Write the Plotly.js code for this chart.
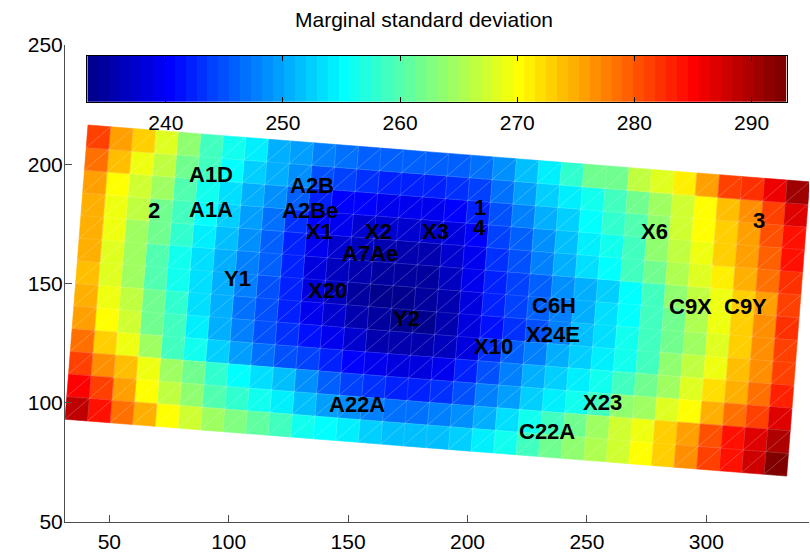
<!DOCTYPE html>
<html>
<head>
<meta charset="utf-8">
<script src="https://cdn.plot.ly/plotly-3.0.1.min.js"></script>
<style>html,body{margin:0;padding:0;background:#fff}#chart{width:810px;height:552px}</style>
</head>
<body>
<div id="chart"></div>
<script>
// ---- data (marginal standard deviation per grid cell, top row first, left to right) ----
const sdRow01 = [280.9,276.2,272.9,268.3,263.7,259.4,256.6,253.9,250.6,249.2,247.4,246.4,246.0,245.5,245.5,245.5,246.0,246.9,248.8,251.1,254.4,257.6,261.3,262.2,266.0,268.3,271.5,276.2,280.9,282.7,286.4,291.1];
const sdRow02 = [278.1,273.8,268.8,266.0,262.2,259.0,254.9,252.0,250.1,248.3,245.0,243.6,242.7,242.2,242.2,242.2,242.7,244.0,246.4,249.2,252.5,254.4,256.6,259.4,262.2,265.0,267.5,270.0,274.3,277.1,281.8,287.3];
const sdRow03 = [275.7,270.6,267.8,264.1,260.3,256.6,253.0,250.6,248.3,245.5,242.2,240.4,239.9,239.4,239.4,239.4,240.4,241.7,244.5,247.4,250.1,252.5,254.9,257.6,260.3,263.2,266.9,269.8,273.3,276.2,280.0,283.7];
const sdRow04 = [275.2,269.3,266.0,262.2,258.5,254.9,252.0,249.2,247.0,243.0,240.4,239.0,237.6,237.1,237.1,237.6,238.5,240.4,243.6,245.5,248.3,251.1,253.9,255.7,259.4,263.2,266.0,268.8,272.5,275.7,279.5,283.7];
const sdRow05 = [275.2,268.8,265.0,261.3,257.6,253.9,251.1,248.3,246.0,242.2,239.4,237.6,236.1,235.2,235.2,235.6,237.1,239.4,242.7,244.5,247.4,250.1,253.0,255.3,258.5,262.2,265.5,268.3,271.5,274.8,278.5,282.7];
const sdRow06 = [274.8,268.3,265.0,260.3,256.6,253.4,250.6,247.8,245.5,241.7,238.5,236.6,235.2,234.3,234.3,234.7,236.1,239.0,241.7,243.6,245.5,248.3,250.6,252.5,255.3,259.4,263.2,266.0,269.3,272.5,276.2,281.0];
const sdRow07 = [274.3,268.3,265.0,260.3,256.6,253.4,250.6,247.4,244.9,242.2,238.5,236.1,234.7,233.8,233.8,234.3,235.6,238.0,241.7,243.6,245.5,247.4,250.3,253.0,255.5,258.5,261.8,265.5,268.8,273.0,277.0,282.3];
const sdRow08 = [274.8,269.3,266.0,262.2,257.6,253.4,250.1,246.4,244.5,241.7,239.4,237.1,235.2,234.3,233.8,233.8,235.2,238.0,241.2,243.2,245.0,247.4,251.1,253.4,255.7,258.5,261.3,265.0,268.3,272.9,276.7,281.8];
const sdRow09 = [275.7,270.6,266.9,262.2,258.5,253.9,250.6,247.4,244.9,242.7,241.2,239.0,237.1,235.6,235.2,235.2,236.1,238.5,242.7,245.5,247.8,250.1,252.0,254.4,256.6,259.4,263.2,266.3,269.3,273.8,277.1,281.8];
const sdRow10 = [278.1,273.3,269.3,264.1,259.4,256.6,252.0,249.2,246.9,244.9,243.6,241.7,239.9,239.0,238.5,238.5,239.4,241.7,244.5,247.4,250.1,252.5,253.9,255.7,258.5,262.2,265.0,268.3,271.8,275.2,278.5,283.0];
const sdRow11 = [281.8,277.1,273.8,268.8,264.1,261.3,257.6,254.9,253.0,251.1,248.3,245.5,243.6,242.7,242.2,242.2,243.2,245.0,247.4,249.6,252.0,253.9,255.7,259.4,263.2,265.0,268.3,270.6,275.2,278.1,281.8,287.3];
const sdRow12 = [285.5,280.9,276.2,270.6,266.3,263.2,260.3,257.6,255.7,253.9,251.1,249.6,248.3,247.4,246.9,246.9,247.4,248.8,250.6,253.4,256.6,259.4,262.2,264.1,266.9,269.3,273.3,276.2,280.0,283.7,287.3,290.2];
const sdRow13 = [289.2,283.7,278.9,275.2,270.6,266.9,264.1,262.5,260.7,258.8,256.6,255.3,253.9,252.5,251.5,251.1,251.5,252.5,253.9,255.7,259.4,262.2,263.7,265.5,267.5,270.0,273.3,276.7,281.0,284.0,287.6,293.0];
const sdGrid = [sdRow01,sdRow02,sdRow03,sdRow04,sdRow05,sdRow06,sdRow07,sdRow08,sdRow09,sdRow10,sdRow11,sdRow12,sdRow13];

const labelText = ['A1D','A1A','2','A2B','A2Be','X1','X2','X3','A7Ae','Y1','X20','Y2','A22A','1','4','X10','C6H','X24E','X23','C22A','X6','3','C9X','C9Y'];
const labelX    = [92.6,92.6,68.7,134.7,134.0,138.2,162.7,186.6,159.2,103.7,141.2,174.5,153.7,205.2,205.2,210.7,236.4,235.6,256.7,233.1,278.1,321.9,293.2,316.6];
const labelY    = [195.5,181.0,180.6,191.3,180.8,171.8,171.8,171.8,162.5,152.0,147.2,135.3,99.2,181.8,173.4,123.5,140.9,128.7,100.0,88.1,172.0,176.4,140.5,140.5];

const xTicks = [50,100,150,200,250,300];
const yTicks = [50,100,150,200,250];
const cbTicks = [240,250,260,270,280,290];
const cMin = 233.3, cMax = 293.0;

// ---- grid geometry (rotated lattice, data units) ----
const ORIGIN = [31.45, 93.09];
const UVEC = [9.444, -0.745];
const VVEC = [0.74, 9.49];
const FONT = 'Liberation Sans, Arial, Helvetica, sans-serif';

function jetMap(m){
  const n = Math.ceil(m/4), u = [];
  for (let i=1;i<=n;i++) u.push(i/n);
  for (let i=0;i<n-1;i++) u.push(1);
  for (let i=n;i>=1;i--) u.push(i/n);
  const g0 = Math.ceil(n/2) - (m%4===1?1:0);
  const J = []; for (let i=0;i<m;i++) J.push([0,0,0]);
  for (let k=1;k<=u.length;k++){
    const g=g0+k, r=g+n, b=g-n;
    if (r>=1&&r<=m) J[r-1][0]=u[k-1];
    if (g>=1&&g<=m) J[g-1][1]=u[k-1];
    if (b>=1&&b<=m) J[b-1][2]=u[k-1];
  }
  return J.map(c=>`rgb(${Math.round(c[0]*255)},${Math.round(c[1]*255)},${Math.round(c[2]*255)})`);
}
const NC = 64;
const jet = jetMap(NC);
function colorIndex(v){
  let i = Math.floor((v-cMin)/(cMax-cMin)*NC);
  return Math.max(0, Math.min(NC-1, i));
}
function P(i,j){ return [ORIGIN[0]+i*UVEC[0]+j*VVEC[0], ORIGIN[1]+i*UVEC[1]+j*VVEC[1]]; }

const nRows = sdGrid.length, nCols = sdGrid[0].length;
const groups = {};
for (let r=0;r<nRows;r++){
  const j = nRows-1-r;
  for (let c=0;c<nCols;c++){
    const k = colorIndex(sdGrid[r][c]);
    if (!groups[k]) groups[k] = {x:[],y:[]};
    const pts = [P(c,j),P(c+1,j),P(c+1,j+1),P(c,j+1),P(c,j)];
    pts.forEach(p=>{groups[k].x.push(p[0]); groups[k].y.push(p[1]);});
    groups[k].x.push(null); groups[k].y.push(null);
  }
}
const traces = [];
Object.keys(groups).forEach(k=>{
  traces.push({type:'scatter',mode:'lines',x:groups[k].x,y:groups[k].y,fill:'toself',
    fillcolor:jet[k],line:{width:0.6,color:jet[k]},hoverinfo:'skip',showlegend:false});
});
// faint triangle edges
const ex=[], ey=[];
for (let j=1;j<nRows;j++){ const a=P(0,j), b=P(nCols,j); ex.push(a[0],b[0],null); ey.push(a[1],b[1],null); }
for (let i=1;i<nCols;i++){ const a=P(i,0), b=P(i,nRows); ex.push(a[0],b[0],null); ey.push(a[1],b[1],null); }
traces.push({type:'scatter',mode:'lines',x:ex,y:ey,line:{width:0.6,color:'rgba(255,255,255,0.22)'},hoverinfo:'skip',showlegend:false});
const dx=[], dy=[];
for (let j=0;j<nRows;j++) for (let i=0;i<nCols;i++){ const a=P(i,j), b=P(i+1,j+1); dx.push(a[0],b[0],null); dy.push(a[1],b[1],null); }
traces.push({type:'scatter',mode:'lines',x:dx,y:dy,line:{width:0.6,color:'rgba(255,255,255,0.38)'},hoverinfo:'skip',showlegend:false});

// colorbar strip
const step = (cMax-cMin)/NC;
const cbX = [], cbZ = [];
for (let i=0;i<NC;i++){ cbX.push(cMin+(i+0.5)*step); cbZ.push(i); }
traces.push({type:'heatmap',x:cbX,y:[0.5],z:[cbZ],xaxis:'x2',yaxis:'y2',zmin:0,zmax:NC-1,
  colorscale:jet.map((c,i)=>[i/(NC-1),c]),showscale:false,hoverinfo:'skip',zsmooth:false});

const annotations = labelText.map((t,i)=>({x:labelX[i],y:labelY[i],xref:'x',yref:'y',text:t,showarrow:false,
  xanchor:'center',yanchor:'middle',font:{family:FONT,size:22,color:'#000',weight:'bold'}}));

const axisCommon = {showgrid:false,zeroline:false,showline:true,linecolor:'#4d4d4d',linewidth:1,
  ticks:'inside',ticklen:7,tickwidth:1,tickcolor:'#4d4d4d',tickfont:{family:FONT,size:21,color:'#000'},fixedrange:true};

const layout = {
  width:810,height:552,margin:{l:65,r:1,t:45,b:30,pad:0},
  paper_bgcolor:'#fff',plot_bgcolor:'#fff',showlegend:false,
  title:{text:'Marginal standard deviation',font:{family:FONT,size:21,color:'#000'},
    x:424/810,xanchor:'center',xref:'container',y:1-20/552,yanchor:'middle',yref:'container'},
  xaxis:Object.assign({},axisCommon,{range:[31.45,343.0],tickvals:xTicks,ticktext:xTicks.map(String),domain:[0,1],anchor:'y',ticklabelstandoff:1}),
  yaxis:Object.assign({},axisCommon,{range:[50,250],tickvals:yTicks,ticktext:yTicks.map(String),domain:[0,1],anchor:'x',ticklabelstandoff:-3}),
  xaxis2:{domain:[0.030,0.970],anchor:'y2',range:[cMin,cMax],showgrid:false,zeroline:false,showline:true,mirror:'ticks',
    linecolor:'#000',linewidth:1,ticks:'inside',ticklen:5,tickcolor:'#000',tickvals:cbTicks,ticktext:cbTicks.map(String),
    tickfont:{family:FONT,size:21,color:'#000'},ticklabelstandoff:2,fixedrange:true},
  yaxis2:{domain:[0.881,0.977],anchor:'x2',range:[0,1],showgrid:false,zeroline:false,showline:true,mirror:true,
    linecolor:'#000',linewidth:1,ticks:'',showticklabels:false,fixedrange:true},
  annotations:annotations
};
Plotly.newPlot('chart',traces,layout,{displayModeBar:false,staticPlot:true});
</script>
</body>
</html>
